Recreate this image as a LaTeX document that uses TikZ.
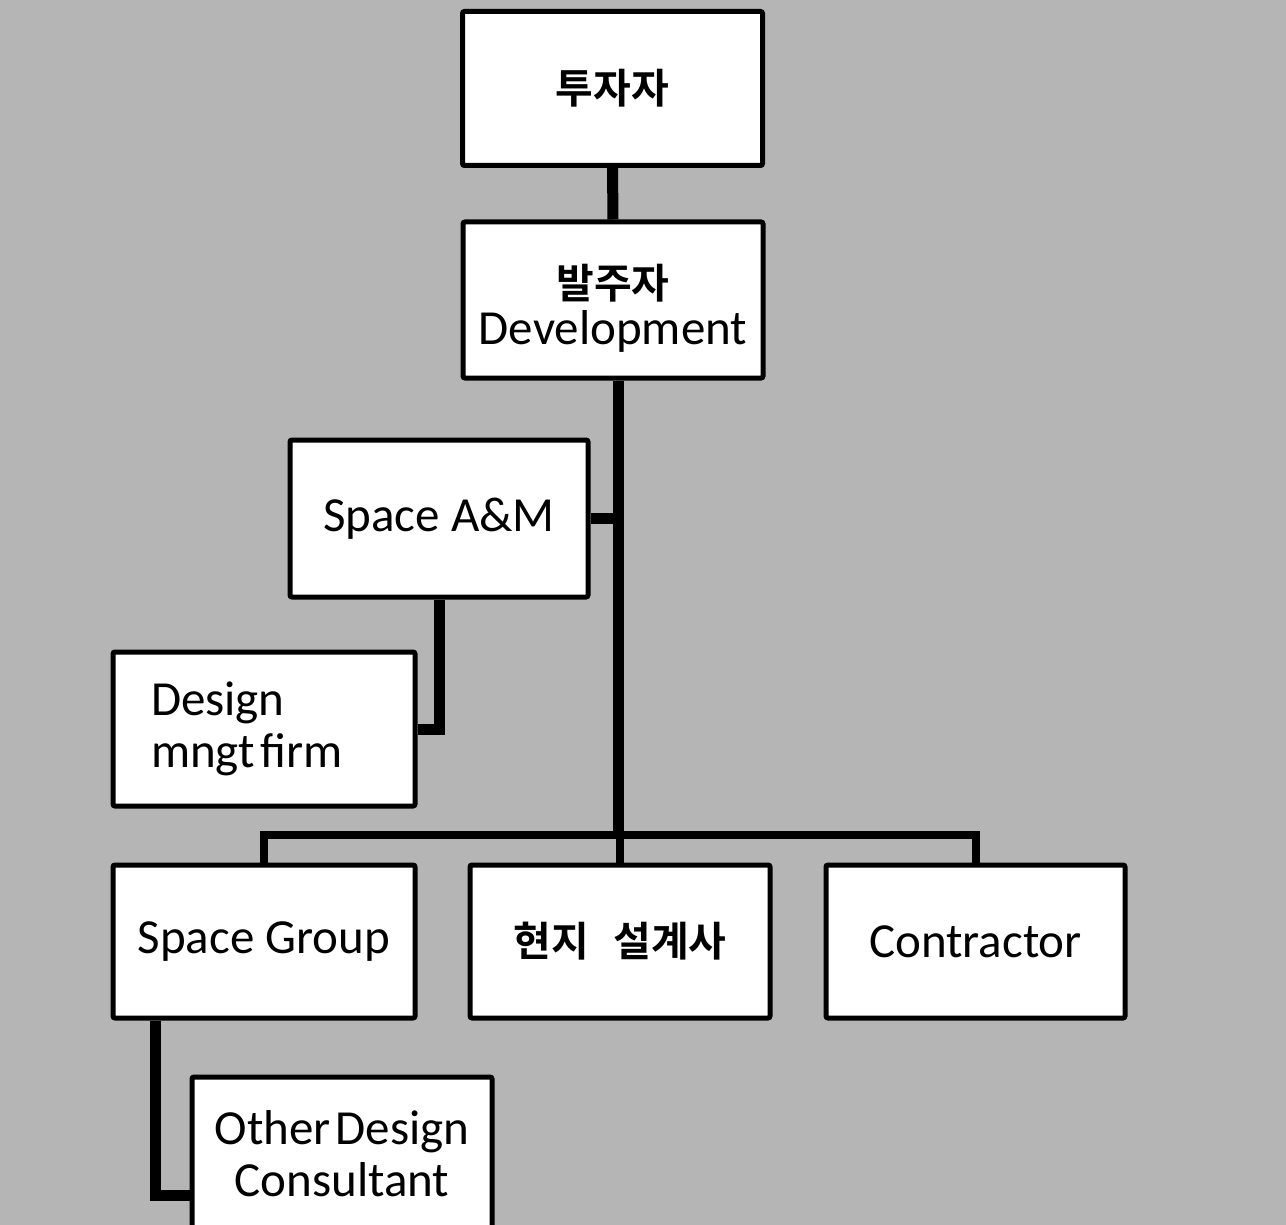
\documentclass[tikz,border=0pt]{standalone}
\usepackage{fontspec}
\setmainfont{Carlito}
\newfontfamily\kr{Noto Sans CJK KR}[BoldFont={Noto Sans CJK KR Bold}]
\begin{document}
\begin{tikzpicture}[x=1pt,y=-1pt,
  box/.style={draw=black, fill=white, line width=5pt, rounded corners=2pt,
    minimum width=300pt, minimum height=154pt, inner sep=0pt, align=center,
    font=\fontsize{49}{52}\selectfont},
  krtext/.style={font=\fontsize{41}{50}\selectfont\kr\bfseries},
  link/.style={line width=11pt},
  drop/.style={line width=8pt}]
\useasboundingbox[fill=gray!58!white] (0,0) rectangle (1286,1225);
\node[box, krtext] (inv) at (612.5,88.5) {투자자};
\node[box, minimum height=156pt] (dev) at (613,300)
  {\raisebox{-11pt}[\height][\depth]{\begin{tabular}{@{}c@{}}{\kr\bfseries\fontsize{41}{46}\selectfont 발주자}\\[-6pt]Development\end{tabular}}};
\node[box, minimum width=298pt, minimum height=157pt] (sam) at (439,518.5) {Space A\&M};
\node[box, minimum width=302pt, inner xsep=38pt, text width=226pt, align=left] (dmf) at (264,729)
  {Design\\mngt\hspace{0.12em}firm};
\node[box, minimum width=302pt, minimum height=153pt] (sg) at (264,941.5) {Space Group};
\node[box, minimum height=153pt, krtext] (lds) at (620,941.5) {현지\hspace{0.6em}설계사};
\node[box, minimum width=299pt, minimum height=153pt] (con) at (975.5,941.5) {Contractor};
\node[box, minimum height=153pt] (odc) at (342,1153.5) {Other\hspace{0.1em}Design\\Consultant};
\coordinate (busc) at (618,835);
% connectors
\draw[link] (inv.south) -- (dev.north);
\draw[link] (dev.south -| busc) -- (busc);
\draw[link] (sam.east) -- (sam.east -| busc);
\draw[link] (sam.south) |- (dmf.east);
\draw[drop] (sg.north) |- (busc) -| (con.north);
\draw[drop] (lds.north) -- (lds.north |- busc);
\draw[link] ([xshift=-109pt]sg.south) |- ([yshift=-41.5pt]odc.west);
\end{tikzpicture}
\end{document}
